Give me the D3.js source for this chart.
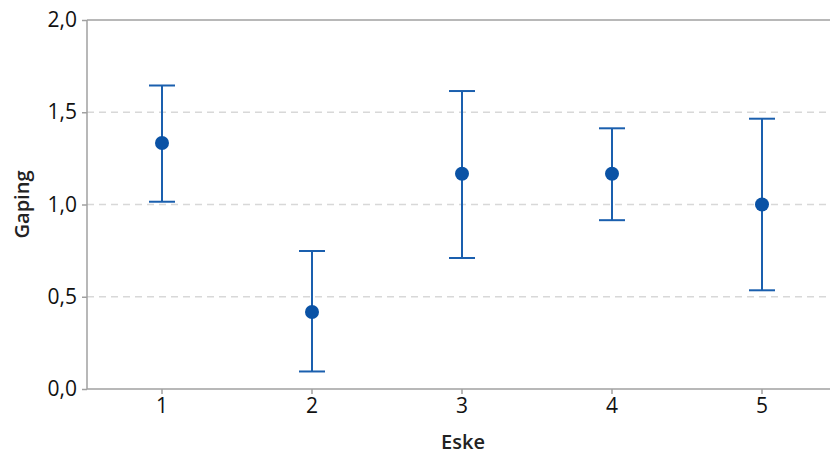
<!DOCTYPE html>
<meta charset="utf-8">
<head>
  <title>Gaping per eske</title>
</head>
<body style="margin:0">
<style>
.tick text { font: 21px "Open Sans", sans-serif; fill: #111; }
.axtitle { font: 600 20px "Open Sans", sans-serif; fill: #222; }
</style>
<svg width="830" height="456"></svg>
<script src="https://d3js.org/d3.v7.min.js"></script>
<script>

var eske = ["1", "2", "3", "4", "5"];
var mean = [1.333, 0.417, 1.167, 1.167, 1.0];
var lower = [1.015, 0.095, 0.71, 0.915, 0.535];
var upper = [1.645, 0.748, 1.615, 1.413, 1.465];
var yTicks = [0, 0.5, 1, 1.5, 2];

var svg = d3.select("svg"),
    padL = 87, padT = 20, padB = 389, padR = 837;

var x = d3.scaleBand().domain(eske).range([padL, padR]);
var y = d3.scaleLinear().domain([0, 2]).range([padB, padT]);
var fmt = function(d) { return d3.format(".1f")(d).replace(".", ","); };

// grid
svg.append("g").selectAll("line")
    .data(yTicks.filter(function(d) { return d > 0 && d < 2; }))
    .enter().append("line")
    .attr("x1", padL).attr("x2", 830)
    .attr("y1", function(d) { return y(d); })
    .attr("y2", function(d) { return y(d); })
    .attr("stroke", "#d8d8d8").attr("stroke-width", 1.3)
    .attr("stroke-dasharray", "7,5");

// top line
svg.append("line").attr("x1", padL).attr("x2", 830).attr("y1", y(2)).attr("y2", y(2))
    .attr("stroke", "#a0a0a0").attr("stroke-width", 1.5);

var yAxis = svg.append("g").attr("transform", "translate(" + padL + ",0)")
    .call(d3.axisLeft(y).tickValues(yTicks).tickFormat(fmt).tickSize(5).tickPadding(5));
var xAxis = svg.append("g").attr("transform", "translate(0," + padB + ")")
    .call(d3.axisBottom(x).tickSize(5).tickPadding(4));
[yAxis, xAxis].forEach(function(a) {
  a.select(".domain").attr("stroke", "#a0a0a0").attr("stroke-width", 1.5);
  a.selectAll(".tick line").attr("stroke", "#a0a0a0").attr("stroke-width", 1.5);
});
xAxis.select(".domain").attr("d", "M" + padL + ",0H830");
yAxis.select(".domain").attr("d", "M0," + padT + "V" + padB);

svg.append("text").attr("class", "axtitle").attr("text-anchor", "middle")
    .attr("x", 463).attr("y", 449).text("Eske");
svg.append("text").attr("class", "axtitle").attr("text-anchor", "middle")
    .attr("transform", "translate(29," + y(1) + ") rotate(-90)").text("Gaping");

var data = eske.map(function(e, i) { return { e: e, m: mean[i], lo: lower[i], hi: upper[i] }; });
var cx = function(d) { return x(d.e) + x.bandwidth() / 2; };
var g = svg.append("g").attr("stroke", "#1a5fae").attr("stroke-width", 2);
var pts = g.selectAll(".err").data(data).enter().append("g");
pts.append("line").attr("x1", cx).attr("x2", cx)
    .attr("y1", function(d) { return y(d.lo); }).attr("y2", function(d) { return y(d.hi); });
pts.append("line").attr("x1", function(d) { return cx(d) - 13; }).attr("x2", function(d) { return cx(d) + 13; })
    .attr("y1", function(d) { return y(d.lo); }).attr("y2", function(d) { return y(d.lo); });
pts.append("line").attr("x1", function(d) { return cx(d) - 13; }).attr("x2", function(d) { return cx(d) + 13; })
    .attr("y1", function(d) { return y(d.hi); }).attr("y2", function(d) { return y(d.hi); });
svg.append("g").selectAll("circle").data(data).enter().append("circle")
    .attr("cx", cx).attr("cy", function(d) { return y(d.m); }).attr("r", 7)
    .attr("fill", "#0a52a5");

</script>
</body>
